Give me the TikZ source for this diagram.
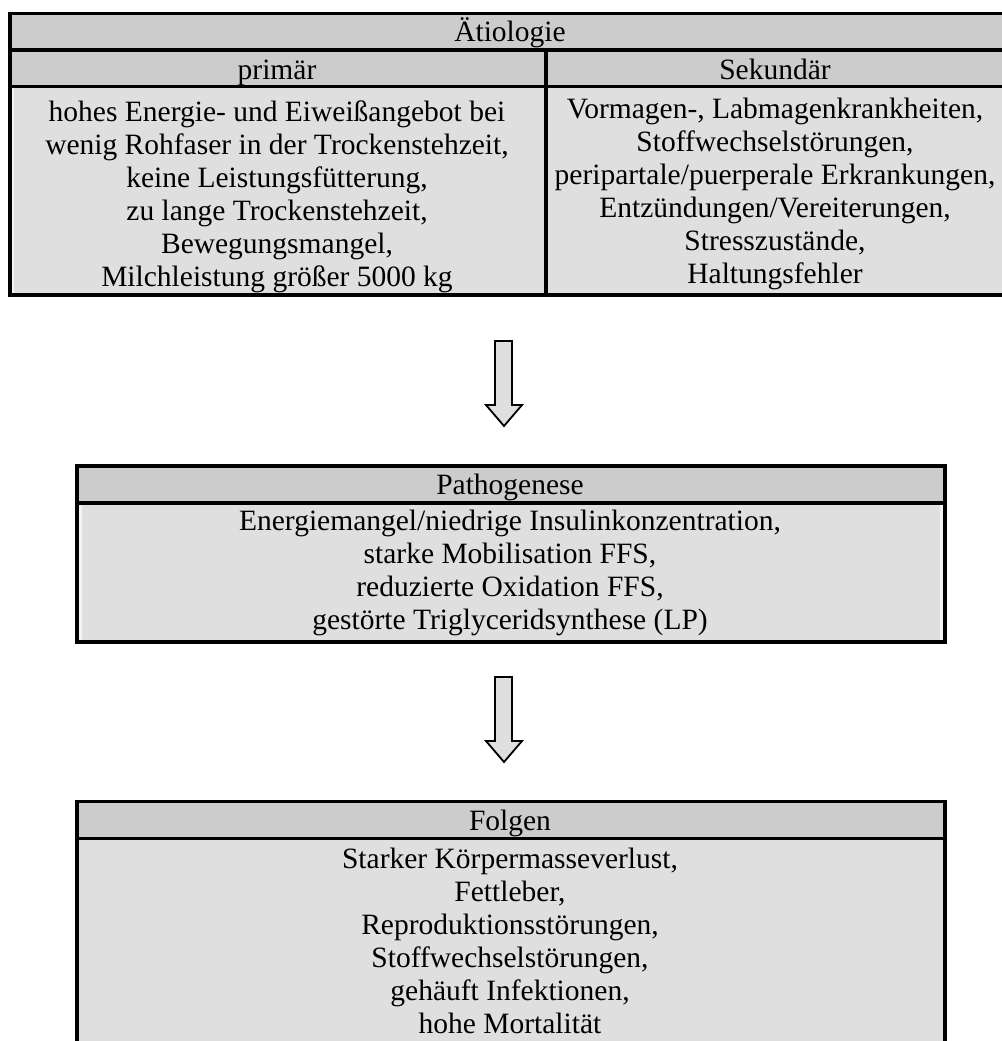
\documentclass[tikz,border=0pt]{standalone}
\usepackage{fontspec}
\setmainfont{Liberation Serif}

\definecolor{headgray}{HTML}{CCCCCC}
\definecolor{bodygray}{HTML}{DFDFDF}
\definecolor{edgegray}{HTML}{F3F3F3}
\newcommand{\cellfont}{\fontsize{29.5}{33}\selectfont}

\tikzset{
rule/.style={line width=3.6pt},
cell/.style={align=center,inner sep=0pt,font=\cellfont},
blockarrow/.style={line width=1.8pt,fill=bodygray,line join=miter}
}

\begin{document}
\begin{tikzpicture}[x=1pt,y=-1pt]
\useasboundingbox (0,0) rectangle (1001,1041);

% Aetiologie
\fill[headgray] (10,13.5) rectangle (1012,86.5);
\fill[edgegray] (10,86.5) rectangle (1012,295);
\fill[bodygray] (14,86.5) rectangle (1012,295);
\draw[rule] (1012,13.5) -- (10,13.5) -- (10,295) -- (1012,295);
\draw[rule] (10,50) -- (1012,50);
\draw[rule] (10,86.5) -- (1012,86.5);
\draw[rule] (546,50) -- (546,295);

\node[cell,anchor=base] (aet) at (510,42) {Ätiologie};
\node[cell,anchor=base] (prim) at (277,79) {primär};
\node[cell,anchor=base] (sek) at (775,79) {Sekundär};
\node[cell] (primtext) at (277,197) {hohes Energie- und Eiweißangebot bei\\
wenig Rohfaser in der Trockenstehzeit,\\
keine Leistungsfütterung,\\
zu lange Trockenstehzeit,\\
Bewegungsmangel,\\
Milchleistung größer 5000 kg};
\node[cell] (sektext) at (775,194) {Vormagen-, Labmagenkrankheiten,\\
Stoffwechselstörungen,\\
peripartale/puerperale Erkrankungen,\\
Entzündungen/Vereiterungen,\\
Stresszustände,\\
Haltungsfehler};

% arrow 1
\draw[blockarrow] (495,341) -- (512,341) -- (512,405) -- (522,405) -- (504,426) -- (486,405) -- (495,405) -- cycle;

% Pathogenese
\fill[headgray] (77,466) rectangle (945,503);
\fill[edgegray] (77,503) rectangle (945,642);
\fill[bodygray] (82,503) rectangle (940,642);
\draw[rule] (77,466) rectangle (945,642);
\draw[rule] (77,503) -- (945,503);

\node[cell,anchor=base] (path) at (510,494) {Pathogenese};
\node[cell] (pathtext) at (510,572.5) {Energiemangel/niedrige Insulinkonzentration,\\
starke Mobilisation FFS,\\
reduzierte Oxidation FFS,\\
gestörte Triglyceridsynthese (LP)};

% arrow 2
\draw[blockarrow] (495,677) -- (512,677) -- (512,741) -- (522,741) -- (504,762) -- (486,741) -- (495,741) -- cycle;

% Folgen
\fill[headgray] (77,801.5) rectangle (945,838.5);
\fill[bodygray] (77,838.5) rectangle (945,1060);
\draw[rule] (77,1060) -- (77,801.5) -- (945,801.5) -- (945,1060);
\draw[rule] (77,838.5) -- (945,838.5);

\node[cell,anchor=base] (folg) at (510,830) {Folgen};
\node[cell] (folgtext) at (510,940.6) {Starker Körpermasseverlust,\\
Fettleber,\\
Reproduktionsstörungen,\\
Stoffwechselstörungen,\\
gehäuft Infektionen,\\
hohe Mortalität};

\end{tikzpicture}
\end{document}
